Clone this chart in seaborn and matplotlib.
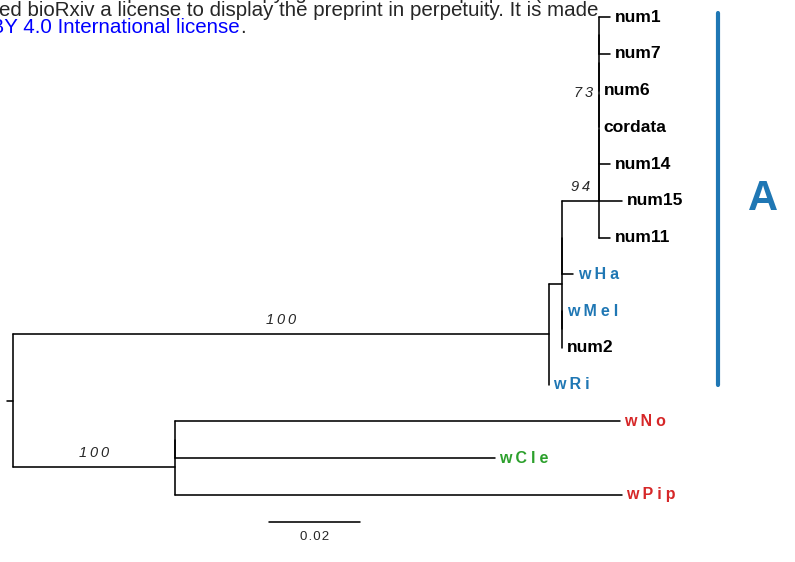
import numpy as np
import pandas as pd
import matplotlib.pyplot as plt
import seaborn as sns

# tree as a parent table; polytomies are resolved with zero-length branches
node = ['root', 'cladeA', 'cladeB', 'n562', 'wRi', 'n_a', 'n_b', 'n94', 'wHa', 'wMel', 'num2',
        'm5', 'num11', 'm4', 'num15', 'm3', 'num14', 'm2', 'cordata', 'm1', 'num6', 'num1', 'num7',
        'n_c', 'wPip', 'wNo', 'wCle']
parent = [None, 'root', 'root', 'cladeA', 'cladeA', 'n562', 'n562', 'n_a', 'n_a', 'n_b', 'n_b',
          'n94', 'n94', 'm5', 'm5', 'm4', 'm4', 'm3', 'm3', 'm2', 'm2', 'm1', 'm1',
          'cladeB', 'cladeB', 'n_c', 'n_c']
branch_len = [0.0, 0.1178, 0.0356, 0.0029, 0.0, 0.0, 0.0, 0.0081, 0.0024, 0.0, 0.0,
              0.0, 0.0024, 0.0, 0.0051, 0.0, 0.0024, 0.0, 0.0, 0.0, 0.0, 0.0024, 0.0024,
              0.0, 0.0982, 0.0978, 0.0703]
support_node = ['cladeA', 'cladeB', 'n94', 'm3']
support_val = [100, 100, 94, 73]
root_edge = 0.0013

blue_tips = ['wHa', 'wMel', 'wRi']
red_tips = ['wNo', 'wPip']
green_tips = ['wCle']
clade_label = 'A'
clade_tips = ['num1', 'wRi']
scale_len = 0.02

pal = sns.color_palette("tab10")
col = {}
for t in blue_tips:
    col[t] = pal[0]
for t in red_tips:
    col[t] = pal[3]
for t in green_tips:
    col[t] = pal[2]

blen = dict(zip(node, branch_len))
children = {n: [] for n in node}
for n, p in zip(node, parent):
    if p is not None:
        children[p].append(n)

xpos, ypos, tips = {}, {}, []


def layout(n, x):
    xpos[n] = x
    kids = children[n]
    if not kids:
        ypos[n] = len(tips)
        tips.append(n)
    else:
        for k in kids:
            layout(k, x + blen[k])
        ypos[n] = (ypos[kids[0]] + ypos[kids[-1]]) / 2


layout('root', 0.0)

# segments of the rectangular tree
rows = []
seg = 0
rows += [(seg, -root_edge, ypos['root']), (seg, 0.0, ypos['root'])]
for n, p in zip(node, parent):
    if p is not None and blen[n] > 0:
        seg += 1
        rows += [(seg, xpos[p], ypos[n]), (seg, xpos[n], ypos[n])]
    kids = children[n]
    if kids:
        seg += 1
        rows += [(seg, xpos[n], ypos[kids[0]]), (seg, xpos[n], ypos[kids[-1]])]
segs = pd.DataFrame(rows, columns=['seg', 'x', 'y'])

sns.set_style("white")
plt.rcParams['font.family'] = ['Liberation Sans', 'DejaVu Sans']


def spaced(s, gap):
    return gap.join(s)


fig = plt.figure(figsize=(7.95, 5.62), dpi=100)
ax = fig.add_axes([0, 0, 1, 1])
sns.lineplot(data=segs, x='x', y='y', units='seg', estimator=None, sort=False,
             color='black', lw=1.15, ax=ax)

# tip labels
for t in tips:
    if t in col:
        ax.text(xpos[t] + 0.001, ypos[t], spaced(t, '\u2005'), color=col[t],
                fontsize=11.5, fontweight='bold', va='center', ha='left')
    else:
        ax.text(xpos[t] + 0.001, ypos[t], t, color='black',
                fontsize=12.6, fontweight='bold', va='center', ha='left')

# bootstrap values
for n, v in zip(support_node, support_val):
    p = parent[node.index(n)]
    lab = spaced(str(v), '\u2009')
    if blen[n] > 0:
        mx = min((xpos[p] + xpos[n]) / 2, xpos[n] - 0.004)
        ax.annotate(lab, (mx, ypos[n]), xytext=(0, 10), textcoords='offset points',
                    ha='center', va='center', fontsize=10.5, style='italic')
    else:
        ax.annotate(lab, (xpos[n], ypos[n]), xytext=(-4.5, 1.2), textcoords='offset points',
                    ha='right', va='center', fontsize=10.5, style='italic')

# clade bar
y0, y1 = ypos[clade_tips[0]] - 0.1, ypos[clade_tips[1]]
ax.plot([0.155, 0.155], [y0, y1], color=pal[0], lw=3, solid_capstyle='round')
ax.text(0.1648, (y0 + y1) / 2, clade_label, color=pal[0], fontsize=30,
        fontweight='bold', ha='center', va='center')

# scale bar
sx, sy = 0.0563, 13.74
ax.plot([sx, sx + scale_len], [sy, sy], color='black', lw=1.15)
ax.text(sx + scale_len / 2, sy + 0.42, spaced(f"{scale_len:.2f}", '\u200a'),
        ha='center', va='center', fontsize=9.5)

ax.set_xlim(-0.00286, 0.17187)
ax.set_ylim(14.83, -0.463)
ax.axis('off')

# cropped bioRxiv header
W, H = 795, 562
fs_head = 14.8
fig.text(594 / W, 1 + 1 / H, "this version posted. The copyright holder for this preprint (which",
         ha='right', va='baseline', fontsize=fs_head)
fig.text(598 / W, 1 - 16 / H,
         "was not certified by peer review) is the author/funder, who has granted bioRxiv a license "
         "to display the preprint in perpetuity. It is made",
         ha='right', va='baseline', fontsize=fs_head)
fig.text(240 / W, 1 - 33 / H, "available under aCC-BY 4.0 International license", color='#0000ff',
         ha='right', va='baseline', fontsize=fs_head)
fig.text(240 / W, 1 - 33 / H, ".", ha='left', va='baseline', fontsize=fs_head)

fig.savefig('out.png', dpi=100)
